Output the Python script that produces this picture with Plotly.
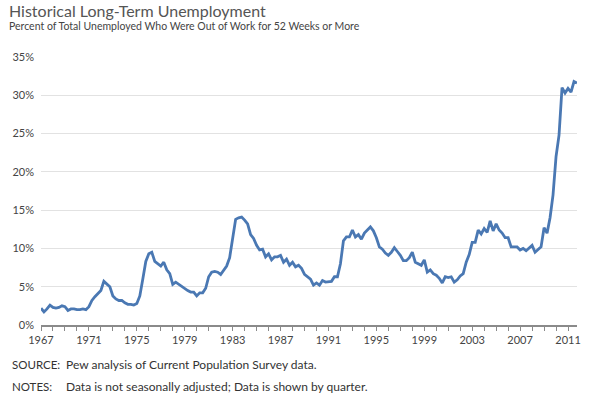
import plotly.graph_objects as go

# Quarterly share (%) of unemployed out of work 52+ weeks, 1967Q1 - 2011Q4
share_1967_1976 = [2.2, 1.7, 2.1, 2.6, 2.3, 2.2, 2.3, 2.5, 2.4, 1.9,
                   2.1, 2.1, 2.0, 2.0, 2.1, 2.0, 2.4, 3.2, 3.7, 4.1,
                   4.5, 5.7, 5.3, 5.0, 3.8, 3.4, 3.2, 3.2, 2.9, 2.7,
                   2.7, 2.6, 2.8, 3.8, 6.0, 8.3, 9.3, 9.5, 8.3, 8.0]
share_1977_1986 = [7.7, 8.2, 7.2, 6.7, 5.3, 5.6, 5.3, 5.0, 4.7, 4.5,
                   4.3, 4.3, 3.8, 4.2, 4.2, 4.8, 6.3, 6.9, 7.0, 6.9,
                   6.6, 7.2, 7.7, 8.8, 11.5, 13.8, 14.0, 14.1, 13.7, 13.2,
                   11.8, 11.3, 10.4, 9.8, 9.9, 8.9, 9.3, 8.5, 8.9, 8.9]
share_1987_1996 = [9.1, 8.2, 8.6, 7.8, 8.2, 7.6, 7.8, 7.4, 6.6, 6.3,
                   6.0, 5.2, 5.5, 5.2, 5.8, 5.6, 5.7, 5.7, 6.3, 6.3,
                   8.0, 11.0, 11.5, 11.5, 12.4, 11.5, 11.8, 11.2, 12.0, 12.4,
                   12.8, 12.3, 11.4, 10.2, 9.9, 9.4, 9.1, 9.5, 10.1, 9.6]
share_1997_2006 = [9.1, 8.4, 8.4, 8.8, 9.5, 8.2, 8.0, 7.8, 8.5, 6.9,
                   7.2, 6.7, 6.5, 6.1, 5.5, 6.3, 6.2, 6.3, 5.6, 5.9,
                   6.4, 6.7, 8.2, 9.2, 10.8, 10.8, 12.4, 11.9, 12.6, 12.1,
                   13.6, 12.3, 13.2, 12.4, 12.0, 11.4, 11.4, 10.2, 10.2, 10.2]
share_2007_2011 = [9.8, 10.0, 9.7, 10.0, 10.4, 9.5, 9.9, 10.2, 12.7, 12.0,
                   14.0, 17.0, 22.0, 24.8, 31.0, 30.3, 30.9, 30.4, 31.8, 31.6]

start_year = 1967
tick_years = [1967, 1971, 1975, 1979, 1983, 1987, 1991, 1995, 1999, 2003, 2007, 2011]
y_ticks = [0, 5, 10, 15, 20, 25, 30, 35]
y_tick_text = ["0%", "5%", "10%", "15%", "20%", "25%", "30%", "35%"]

values = share_1967_1976 + share_1977_1986 + share_1987_1996 + share_1997_2006 + share_2007_2011
quarters = [start_year + i / 4 for i in range(len(values))]

FONT = "Lato, 'Open Sans', sans-serif"

fig = go.Figure()
fig.add_trace(go.Scatter(
    x=quarters, y=values, mode="lines",
    line=dict(color="#4a78b3", width=2.8, shape="linear"),
    hoverinfo="skip", cliponaxis=False,
))

fig.update_layout(
    width=600, height=399,
    margin=dict(l=39, r=23, t=57, b=74),
    paper_bgcolor="white", plot_bgcolor="white",
    showlegend=False,
    font=dict(family=FONT, size=11, color="#444"),
    xaxis=dict(
        range=[quarters[0], quarters[-1]],
        tickmode="array", tickvals=tick_years, ticktext=[str(y) for y in tick_years],
        showgrid=False, zeroline=False,
        showline=True, linecolor="#8a8a8a", linewidth=1.5,
        ticks="outside", ticklen=4, tickcolor="#8a8a8a", tickwidth=1,
        minor=dict(dtick=1, tick0=1967, ticks="outside", ticklen=4, tickcolor="#8a8a8a", showgrid=False),
        tickfont=dict(family=FONT, size=11, color="#444"),
        fixedrange=True,
    ),
    yaxis=dict(
        range=[0, 35],
        tickmode="array", tickvals=y_ticks, ticktext=y_tick_text,
        showgrid=True, gridcolor="#e2e2e2", gridwidth=1,
        zeroline=False, showline=False, ticks="",
        ticklabelstandoff=6,
        tickfont=dict(family=FONT, size=11, color="#444"),
        fixedrange=True,
    ),
)

def px_x(p):
    return (p - 39) / 538

def px_y(p):
    return (325 - p) / 268

anns = [
    dict(text="Historical Long-Term Unemployment", x=px_x(5), y=px_y(10),
         font=dict(family=FONT, size=16, color="#555")),
    dict(text="Percent of Total Unemployed Who Were Out of Work for 52 Weeks or More",
         x=px_x(5), y=px_y(26), font=dict(family=FONT, size=10.5, color="#444")),
    dict(text="SOURCE:", x=px_x(8), y=px_y(364), font=dict(family=FONT, size=11.5, color="#333")),
    dict(text="Pew analysis of Current Population Survey data.", x=px_x(62), y=px_y(364),
         font=dict(family=FONT, size=12, color="#333")),
    dict(text="NOTES:", x=px_x(8), y=px_y(386), font=dict(family=FONT, size=11.5, color="#333")),
    dict(text="Data is not seasonally adjusted; Data is shown by quarter.", x=px_x(62), y=px_y(386),
         font=dict(family=FONT, size=12, color="#333")),
]
for a in anns:
    fig.add_annotation(xref="paper", yref="paper", xanchor="left", yanchor="middle",
                       showarrow=False, **a)

fig.write_html("out.html", include_plotlyjs=True, config=dict(displayModeBar=False),
               post_script="document.body.style.margin='0';document.body.style.overflow='hidden';")
